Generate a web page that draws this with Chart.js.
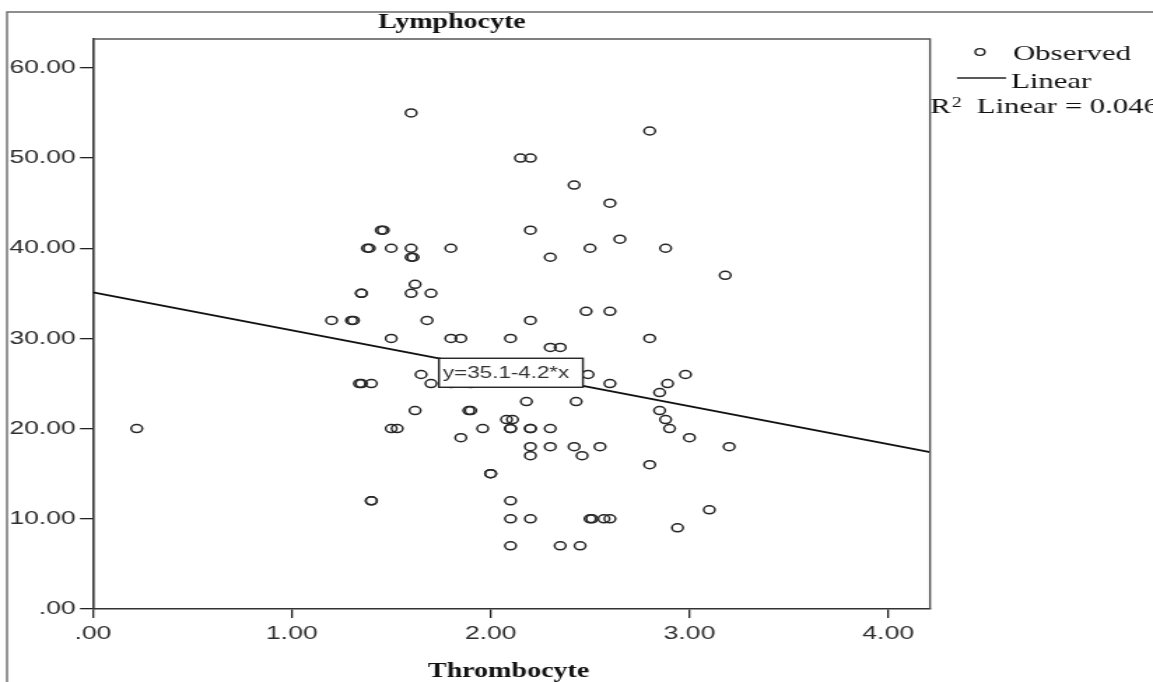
<!DOCTYPE html>
<html><head><meta charset="utf-8">
<script src="https://cdn.jsdelivr.net/npm/chart.js@4.4.1/dist/chart.umd.min.js"></script>
<style>html,body{margin:0;padding:0;background:#fff;overflow:hidden}
#c{display:block}</style></head>
<body><canvas id="c" width="824" height="682" style="width:1153px;height:682px"></canvas>
<script>
// ---- data ----
const thrombocyte = [0.22,1.60,2.15,2.20,2.80,2.42,2.60,2.20,1.45,1.46,1.38,1.39,1.50,1.60,1.60,1.61,1.80,2.30,2.50,2.65,2.88,3.18,1.62,1.60,1.70,1.35,1.35,1.20,1.30,1.31,1.68,2.20,2.48,2.60,1.50,1.80,1.85,2.10,2.80,2.30,2.35,1.65,2.49,2.98,1.35,1.34,1.40,1.70,1.80,1.90,2.60,2.89,2.85,2.18,2.43,1.62,1.89,1.90,2.85,2.08,2.11,2.88,1.50,1.53,1.96,2.10,2.10,2.20,2.20,2.30,2.90,1.85,3.00,2.20,2.30,2.42,2.55,3.20,2.20,2.46,2.80,2.00,2.00,1.40,1.40,2.10,3.10,2.10,2.20,2.50,2.51,2.57,2.60,2.94,2.10,2.35,2.45];
const lymphocyte  = [20,55,50,50,53,47,45,42,42,42,40,40,40,40,39,39,40,39,40,41,40,37,36,35,35,35,35,32,32,32,32,32,33,33,30,30,30,30,30,29,29,26,26,26,25,25,25,25,25,25,25,25,24,23,23,22,22,22,22,21,21,21,20,20,20,20,20,20,20,20,20,19,19,18,18,18,18,18,17,17,16,15,15,12,12,12,11,10,10,10,10,10,10,9,7,7,7];
const fitX = [0, 4.21];
const fitY = [35.1, 17.4];
const xTickValues = [0, 1, 2, 3, 4];
const xTickLabels = ['.00', '1.00', '2.00', '3.00', '4.00'];
const yTickValues = [0, 10, 20, 30, 40, 50, 60];
const yTickLabels = ['.00', '10.00', '20.00', '30.00', '40.00', '50.00', '60.00'];
const xRange = [0, 4.21];
const yRange = [0, 63.2];
const chartTitle = 'Lymphocyte';
const xTitle = 'Thrombocyte';
const legendLabels = ['Observed', 'Linear'];
const r2Label = ['R', '2', ' Linear = 0.046'];
const equationText = 'y=35.1-4.2*x';
const equationAnchor = [1.74, 27.8];

// horizontal stretch of the reference picture
const S = 1153 / 824;
const X = px => px / S;

const decor = {
  id: 'decor',
  beforeDraw(chart) {
    const ctx = chart.ctx;
    ctx.save();
    ctx.fillStyle = '#fff';
    ctx.fillRect(0, 0, chart.width, chart.height);
    ctx.strokeStyle = '#6a6a6a';
    ctx.lineWidth = 1.4;
    ctx.beginPath();
    ctx.moveTo(X(7), 700); ctx.lineTo(X(7), 12); ctx.lineTo(chart.width + 5, 12);
    ctx.stroke();
    ctx.restore();
  },
  afterDatasetsDraw(chart) {
    const ctx = chart.ctx;
    const xs = chart.scales.x, ys = chart.scales.y;
    const a = chart.chartArea;
    ctx.save();
    const bx = xs.getPixelForValue(equationAnchor[0]);
    const by = ys.getPixelForValue(equationAnchor[1]);
    const bw = X(144), bh = 29;
    ctx.fillStyle = '#fff';
    ctx.fillRect(bx, by, bw, bh);
    ctx.strokeStyle = '#222';
    ctx.lineWidth = 1.4;
    ctx.strokeRect(bx, by, bw, bh);
    ctx.fillStyle = '#333';
    ctx.font = '16px "Liberation Sans", Arial, sans-serif';
    ctx.textBaseline = 'middle';
    ctx.textAlign = 'left';
    ctx.fillText(equationText, bx + X(4), by + bh / 2 + 1);
    ctx.strokeStyle = '#555';
    ctx.lineWidth = 1.4;
    ctx.beginPath();
    ctx.moveTo(a.left, a.top); ctx.lineTo(a.right, a.top); ctx.lineTo(a.right, a.bottom);
    ctx.stroke();
    ctx.restore();
  },
  afterDraw(chart) {
    const ctx = chart.ctx;
    ctx.save();
    ctx.fillStyle = '#111';
    ctx.textBaseline = 'alphabetic';
    ctx.textAlign = 'left';
    ctx.font = 'bold 20px "Liberation Serif", "Times New Roman", serif';
    ctx.fillText(chartTitle, X(378), 28);
    ctx.fillText(xTitle, X(428), 677);
    ctx.font = '22px "Liberation Serif", "Times New Roman", serif';
    ctx.strokeStyle = '#222';
    ctx.lineWidth = 1.4;
    ctx.beginPath();
    ctx.arc(X(980), 52, 3.4, 0, Math.PI * 2);
    ctx.stroke();
    ctx.fillText(legendLabels[0], X(1013), 60);
    ctx.lineWidth = 1.5;
    ctx.beginPath();
    ctx.moveTo(X(957), 78); ctx.lineTo(X(1006), 78);
    ctx.stroke();
    ctx.fillText(legendLabels[1], X(1011), 88);
    ctx.fillText(r2Label[0], X(930), 113);
    const rw = ctx.measureText(r2Label[0]).width;
    ctx.font = '14px "Liberation Serif", "Times New Roman", serif';
    ctx.fillText(r2Label[1], X(930) + rw + 1, 107);
    ctx.font = '22px "Liberation Serif", "Times New Roman", serif';
    ctx.fillText(r2Label[2], X(969), 113);
    ctx.restore();
  }
};

new Chart(document.getElementById('c'), {
  data: {
    datasets: [
      {
        type: 'scatter',
        label: legendLabels[0],
        data: thrombocyte.map((x, i) => ({ x, y: lymphocyte[i] })),
        pointStyle: 'circle',
        pointRadius: 4.0,
        pointBorderWidth: 1.5,
        borderColor: '#262626',
        backgroundColor: 'rgba(0,0,0,0)',
        order: 2
      },
      {
        type: 'line',
        label: legendLabels[1],
        data: fitX.map((x, i) => ({ x, y: fitY[i] })),
        borderColor: '#111',
        borderWidth: 1.8,
        pointRadius: 0,
        fill: false,
        order: 1
      }
    ]
  },
  options: {
    responsive: false,
    animation: false,
    devicePixelRatio: 1,
    layout: { padding: { left: 0, top: 39, right: 824 - X(930), bottom: 0 } },
    plugins: { legend: { display: false }, tooltip: { enabled: false }, title: { display: false } },
    scales: {
      x: {
        type: 'linear',
        min: xRange[0], max: xRange[1],
        afterBuildTicks: s => { s.ticks = xTickValues.map(v => ({ value: v })); },
        afterFit: s => { s.height = 682 - 609; },
        grid: { drawOnChartArea: false, tickLength: 9, color: '#222', lineWidth: 1.3 },
        border: { display: true, color: '#333', width: 1.6 },
        ticks: {
          autoSkip: false, maxRotation: 0, padding: 4, color: '#2e2e2e',
          font: { family: '"Liberation Sans", Arial, sans-serif', size: 19 },
          callback: (v, i) => xTickLabels[i]
        }
      },
      y: {
        type: 'linear',
        min: yRange[0], max: yRange[1],
        afterBuildTicks: s => { s.ticks = yTickValues.map(v => ({ value: v })); },
        afterFit: s => { s.width = X(93); },
        grid: { drawOnChartArea: false, tickLength: X(13), color: '#222', lineWidth: 1.3 },
        border: { display: true, color: '#333', width: 1.6 },
        ticks: {
          autoSkip: false, padding: 3, color: '#2e2e2e',
          font: { family: '"Liberation Sans", Arial, sans-serif', size: 19 },
          callback: (v, i) => yTickLabels[i]
        }
      }
    }
  },
  plugins: [decor]
});
</script>
</body></html>
